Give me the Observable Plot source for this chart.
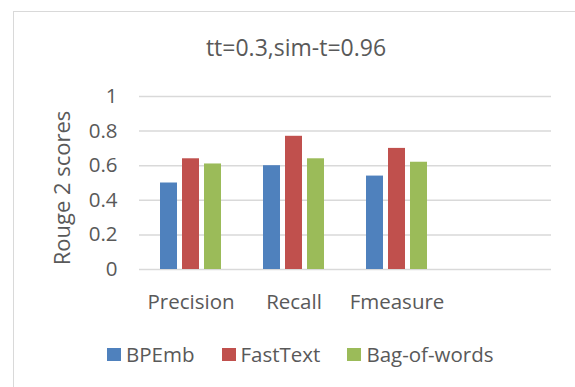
<!DOCTYPE html>
<html>
<head>
<meta charset="utf-8">
<script src="https://cdn.jsdelivr.net/npm/d3@7"></script>
<script src="https://cdn.jsdelivr.net/npm/@observablehq/plot@0.6"></script>
<style>
  html, body { margin: 0; padding: 0; background: #fff; }
  #wrap { position: relative; width: 575px; height: 387px; overflow: hidden; font-family: "Open Sans", sans-serif; color: #595959; }
  #border { position: absolute; left: 13px; top: 11px; width: 600px; height: 400px; border-left: 1px solid #d9d9d9; border-top: 1px solid #d9d9d9; }
  #title { position: absolute; left: 146px; width: 300px; top: 36px; text-align: center; font-size: 23px; line-height: 23px; white-space: nowrap; }
  #chart { position: absolute; left: 0; top: 70px; }
  #legend { position: absolute; left: 107px; top: 344px; display: flex; align-items: center; font-size: 20.5px; line-height: 20px; white-space: nowrap; }
  .item { display: flex; align-items: center; margin-right: 27px; }
  .sw { width: 14px; height: 13px; margin-right: 5px; }
</style>
</head>
<body>
<div id="wrap">
  <div id="border"></div>
  <div id="title">tt=0.3,sim-t=0.96</div>
  <div id="chart"></div>
  <div id="legend"></div>
</div>
<script>
const categories = ["Precision", "Recall", "Fmeasure"];
const series = ["BPEmb", "FastText", "Bag-of-words"];
const bpemb = [0.50, 0.60, 0.54];
const fastText = [0.64, 0.77, 0.70];
const bagOfWords = [0.61, 0.64, 0.62];
const yTicks = [0, 0.2, 0.4, 0.6, 0.8, 1];
const colors = ["#4F81BD", "#C0504D", "#9BBB59"];
const titleText = "tt=0.3,sim-t=0.96";
const yLabel = "Rouge 2 scores";

const valuesBySeries = [bpemb, fastText, bagOfWords];
const data = [];
categories.forEach((c, i) => {
  series.forEach((s, j) => data.push({category: c, series: s, value: valuesBySeries[j][i]}));
});
const fxDomain = [...categories, ""];
const gridData = [];
fxDomain.forEach(c => yTicks.forEach(t => gridData.push({category: c, tick: t})));

const chart = Plot.plot({
  width: 575,
  height: 250,
  marginLeft: 139,
  marginRight: 24,
  marginTop: 26,
  marginBottom: 51,
  style: {fontFamily: "Open Sans, sans-serif", fontSize: "20.5px", color: "#595959", background: "transparent"},
  fx: {domain: fxDomain, padding: 0, label: null},
  x: {domain: series, paddingInner: 0.217, paddingOuter: 0.85, axis: null},
  y: {domain: [0, 1], label: null},
  color: {domain: series, range: colors},
  marks: [
    Plot.ruleY(gridData, {fx: "category", y: "tick", stroke: "#d9d9d9", strokeWidth: 1.5}),
    Plot.axisY({ticks: yTicks, tickSize: 0, tickPadding: 22, tickFormat: d3.format("~g"), label: null}),
    Plot.axisFx({anchor: "bottom", tickSize: 0, tickPadding: 25, label: null}),
    Plot.barY(data, {fx: "category", x: "series", y: "value", fill: "series"}),
    Plot.text([yLabel], {frameAnchor: "left", dx: -77, dy: 5, rotate: -90, fontSize: 22, fill: "#595959", textAnchor: "middle", facet: "super"})
  ]
});
document.getElementById("chart").appendChild(chart);

const legend = document.getElementById("legend");
series.forEach((s, i) => {
  const item = document.createElement("div");
  item.className = "item";
  const sw = document.createElement("div");
  sw.className = "sw";
  sw.style.background = colors[i];
  const t = document.createElement("span");
  t.textContent = s;
  item.appendChild(sw);
  item.appendChild(t);
  legend.appendChild(item);
});
document.getElementById("title").textContent = titleText;
</script>
</body>
</html>
